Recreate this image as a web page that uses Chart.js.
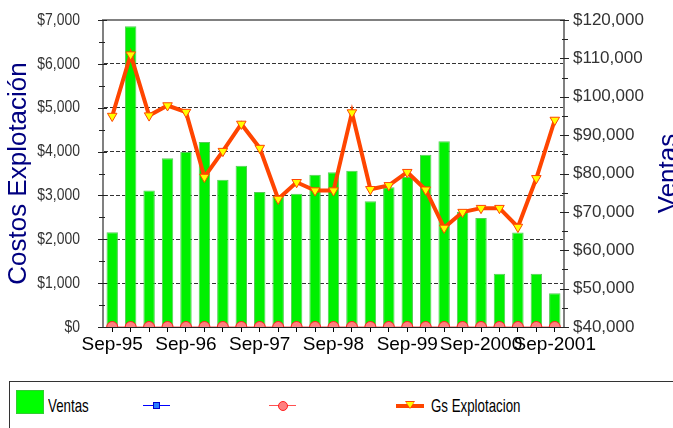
<!DOCTYPE html>
<html>
<head>
<meta charset="utf-8">
<script src="https://cdn.jsdelivr.net/npm/chart.js@4"></script>
<style>
html,body{margin:0;padding:0;background:#fff;}
#wrap{position:relative;width:673px;height:428px;overflow:hidden;}
#legend{position:absolute;left:9px;top:381px;width:700px;height:70px;border:1px solid #333;background:#fff;box-sizing:border-box;font-family:"Liberation Sans",Arial,sans-serif;font-size:19px;color:#000;}
.it{position:absolute;}
.txt{position:absolute;top:14px;line-height:20px;white-space:nowrap;transform:scaleX(0.7);transform-origin:0 50%;}
</style>
</head>
<body>
<div id="wrap">
<canvas id="c" width="673" height="428"></canvas>
<div id="legend">
  <div class="it" style="left:6px;top:8px;width:26px;height:22px;background:#00ff00;border:1px solid #33cc33;"></div>
  <div class="txt" style="left:38px;">Ventas</div>
  <div class="it" style="left:133px;top:23px;width:27px;height:1px;background:#0000ff;"></div>
  <div class="it" style="left:143px;top:20px;width:5px;height:5px;background:#2a7fff;border:1px solid #0000cc;"></div>
  <div class="it" style="left:259px;top:23px;width:27px;height:1px;background:#ff5050;"></div>
  <div class="it" style="left:268px;top:19px;width:8px;height:8px;border-radius:50%;background:#ff8080;border:1px solid #ff2020;"></div>
  <div class="it" style="left:386px;top:22px;width:28px;height:4px;background:#ff4500;"></div>
  <div class="it" style="left:395px;top:19px;width:0;height:0;border-left:5px solid transparent;border-right:5px solid transparent;border-top:8px solid #ff4500;"></div>
  <div class="it" style="left:396px;top:20px;width:0;height:0;border-left:4px solid transparent;border-right:4px solid transparent;border-top:6px solid #ffff00;"></div>
  <div class="txt" style="left:421px;">Gs Explotacion</div>
</div>
</div>
<script>
// ---- data ----
const categories = ['Sep-95','Dic-95','Mar-96','Jun-96','Sep-96','Dic-96','Mar-97','Jun-97','Sep-97','Dic-97','Mar-98','Jun-98','Sep-98','Dic-98','Mar-99','Jun-99','Sep-99','Dic-99','Mar-2000','Jun-2000','Sep-2000','Dic-2000','Mar-2001','Jun-2001','Sep-2001'];
const shownTicks = ['Sep-95','Sep-96','Sep-97','Sep-98','Sep-99','Sep-2000','Sep-2001'];
const ventas = [64700,118400,75600,84000,85600,88200,78400,82000,75200,74100,74700,79700,80300,80700,72800,76400,79100,84900,88400,70000,68400,53900,64600,53900,48800];
const gsExplotacion = [4810,6210,4820,5050,4900,3420,4010,4630,4080,2920,3300,3110,3110,4890,3140,3230,3530,3130,2260,2620,2710,2710,2280,3390,4720];
const serieCirculos = [0,0,0,0,0,0,0,0,0,0,0,0,0,0,0,0,0,0,0,0,0,0,0,0,0];
const serieCuadros = [];

const money = v => '$' + Number(v).toLocaleString('en-US');

const framePlugin = {
  id: 'framePlugin',
  afterDatasetsDraw(chart) {
    const {ctx, chartArea: a, scales} = chart;
    ctx.save();
    // top frame line
    ctx.strokeStyle = '#808080';
    ctx.lineWidth = 2;
    ctx.beginPath();
    ctx.moveTo(a.left - 1, a.top);
    ctx.lineTo(a.right + 1, a.top);
    ctx.stroke();
    // tick marks
    ctx.strokeStyle = '#222';
    ctx.lineWidth = 1;
    const drawTicks = (scale, x, side) => {
      const t = scale.ticks.map(k => k.value);
      ctx.beginPath();
      t.forEach((v, i) => {
        const p = Math.round(scale.getPixelForValue(v)) + 0.5;
        ctx.moveTo(x - 5 * side, p); ctx.lineTo(x + 4 * side, p);
        if (i < t.length - 1) {
          const q = Math.round(scale.getPixelForValue((v + t[i + 1]) / 2)) + 0.5;
          ctx.moveTo(x - 4 * side, q); ctx.lineTo(x + 2 * side, q);
        }
      });
      ctx.stroke();
    };
    drawTicks(scales.y, a.left, 1);
    drawTicks(scales.y1, a.right, -1);
    ctx.restore();
  },
  afterDraw(chart) {
    const {ctx, chartArea: a, scales} = chart;
    // condensed left tick labels
    ctx.save();
    ctx.font = '17px "Liberation Sans", Arial, sans-serif';
    ctx.fillStyle = '#333';
    ctx.textAlign = 'right';
    ctx.textBaseline = 'middle';
    scales.y.ticks.forEach(t => {
      const p = scales.y.getPixelForValue(t.value);
      ctx.save();
      ctx.translate(a.left - 23, p);
      ctx.scale(0.82, 1);
      ctx.fillText(money(t.value), 0, 0);
      ctx.restore();
    });
    ctx.restore();
    // right axis title, reading bottom-to-top
    ctx.save();
    ctx.font = '26px "Liberation Sans", Arial, sans-serif';
    ctx.fillStyle = '#000080';
    ctx.textAlign = 'center';
    ctx.textBaseline = 'alphabetic';
    ctx.translate(676, (a.top + a.bottom) / 2);
    ctx.rotate(-Math.PI / 2);
    ctx.fillText('Ventas', 0, 0);
    ctx.restore();
  }
};

new Chart(document.getElementById('c'), {
  data: {
    labels: categories,
    datasets: [
      {
        type: 'bar', label: 'Ventas', data: ventas, yAxisID: 'y1', order: 4,
        backgroundColor: '#00f000', borderColor: '#55cc55', borderWidth: 1,
        barPercentage: 0.62, categoryPercentage: 1.0
      },
      {
        type: 'line', label: '', data: serieCuadros, yAxisID: 'y', order: 3,
        borderColor: '#0000ff', borderWidth: 1, pointStyle: 'rect', pointRadius: 3,
        pointBackgroundColor: '#2a7fff', pointBorderColor: '#0000cc'
      },
      {
        type: 'line', label: '', data: serieCirculos, yAxisID: 'y', order: 2,
        borderColor: '#ff5050', borderWidth: 1, pointStyle: 'circle', pointRadius: 5.5,
        pointBackgroundColor: '#ff8080', pointBorderColor: '#ff2020', pointBorderWidth: 1
      },
      {
        type: 'line', label: 'Gs Explotacion', data: gsExplotacion, yAxisID: 'y', order: 1,
        borderColor: '#ff4500', borderWidth: 4, tension: 0,
        pointStyle: 'triangle', rotation: 180, pointRadius: 5.5,
        pointBackgroundColor: '#ffff00', pointBorderColor: '#ff4500', pointBorderWidth: 1
      }
    ]
  },
  options: {
    responsive: false,
    animation: false,
    devicePixelRatio: 1,
    layout: {padding: {top: 20, left: 0, right: 0, bottom: 0}},
    plugins: {legend: {display: false}, tooltip: {enabled: false}},
    scales: {
      x: {
        type: 'category',
        offset: true,
        afterFit: s => { s.height = 101; },
        grid: {offset: false, drawOnChartArea: false, drawTicks: true, tickLength: 5, color: '#000'},
        border: {color: '#222', width: 1},
        ticks: {
          autoSkip: false, maxRotation: 0, minRotation: 0, padding: 1,
          color: '#000', font: {family: '"Liberation Sans", Arial, sans-serif', size: 19},
          callback: function(v, i) { const l = categories[i]; return shownTicks.includes(l) ? l : ''; }
        }
      },
      y: {
        position: 'left', min: 0, max: 7000,
        afterFit: s => { s.width = 103; s.paddingTop = 0; s.paddingBottom = 0; },
        title: {display: true, text: 'Costos Explotación', color: '#000080',
          font: {family: '"Liberation Sans", Arial, sans-serif', size: 26}, padding: {top: 3, bottom: 0}},
        grid: {drawTicks: false, lineWidth: 1,
          color: c => (c.tick && (c.tick.value === 0 || c.tick.value === 7000)) ? 'rgba(0,0,0,0)' : '#333'},
        border: {color: '#808080', width: 2, dash: [4, 2]},
        ticks: {stepSize: 1000, padding: 23, color: 'rgba(0,0,0,0)',
          font: {family: '"Liberation Sans", Arial, sans-serif', size: 17},
          callback: v => money(v)}
      },
      y1: {
        position: 'right', min: 40000, max: 120000,
        afterFit: s => { s.width = 109; s.paddingTop = 0; s.paddingBottom = 0; },
        grid: {drawOnChartArea: false, drawTicks: false},
        border: {color: '#808080', width: 2},
        ticks: {stepSize: 10000, padding: 9, color: '#333',
          font: {family: '"Liberation Sans", Arial, sans-serif', size: 17},
          callback: v => money(v)}
      }
    }
  },
  plugins: [framePlugin]
});
</script>
</body>
</html>
